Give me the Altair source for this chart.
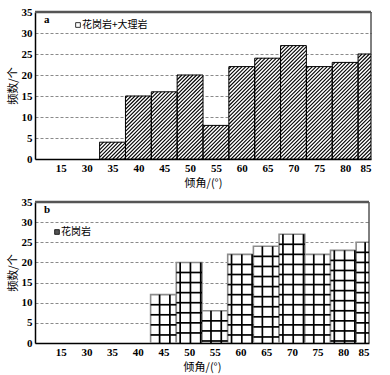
import math
import altair as alt
import pandas as pd

# ---- data ----
cats = ["15", "30", "35", "40", "45", "50", "55", "60", "65", "70", "75", "80", "85"]
counts_a = [0, 0, 4, 15, 16, 20, 8, 22, 24, 27, 22, 23, 25]
counts_b = [0, 0, 0, 0, 12, 20, 8, 22, 24, 27, 22, 23, 25]
y_ticks = [0, 5, 10, 15, 20, 25, 30, 35]
legend_a = "花岗岩+大理岩"
legend_b = "花岗岩"
panel_a = "a"
panel_b = "b"
x_title = "倾角/(°)"
y_title = "频数/个"

N = len(cats)
YMAX = 35
W_A, H_A = 336, 147
W_B, H_B = 334, 141

NUM_FONT = "Liberation Serif"
CJK_FONT = "Noto Sans CJK SC"
label_expr = "[" + ",".join("'%s'" % c for c in cats) + "][datum.value - 1]"


def bars_df(counts):
    rows = []
    for i, (c, v) in enumerate(zip(cats, counts)):
        if v > 0:
            rows.append(dict(cat=c, x0=i + 0.5, x1=i + 1.5, v=v))
    return pd.DataFrame(rows)


def hatch_df(bars, w, h):
    px_x = w / N
    px_y = h / YMAX
    s = px_x / px_y
    d = 3.7 / px_x
    segs = []
    for _, b in bars.iterrows():
        x0, x1, hv = b.x0, b.x1, b.v
        kmin = math.floor((x0 - hv / s) / d)
        kmax = math.ceil(x1 / d)
        for k in range(kmin, kmax + 1):
            c = k * d
            xs = max(x0, c)
            xe = min(x1, c + hv / s)
            if xe - xs <= 1e-6:
                continue
            segs.append(dict(hx=xs, hy=s * (xs - c), hx2=xe, hy2=s * (xe - c)))
    return pd.DataFrame(segs)


def grid_df(bars):
    vs, hs = [], []
    for _, b in bars.iterrows():
        k = 0
        while True:
            v = 0.05 + 0.4 * k
            k += 1
            if v >= b.x1 - 0.03:
                break
            if v > b.x0 + 0.03:
                vs.append(dict(gx=v, gy=0, gy2=b.v))
        yv = b.v - 2.5
        while yv > 0.3:
            hs.append(dict(gx=b.x0, gx2=b.x1, gy=yv))
            yv -= 2.5
    return pd.DataFrame(vs), pd.DataFrame(hs)


X_AXIS = alt.Axis(
    values=list(range(1, N + 1)), labelExpr=label_expr, grid=False,
    ticks=False, domainColor="black", domainWidth=1.5,
    labelFont=NUM_FONT, labelFontWeight="bold", labelFontSize=11,
    labelColor="black", labelPadding=3,
    title=x_title, titleFont=CJK_FONT, titleFontSize=11,
    titleFontWeight="normal", titleColor="black", titlePadding=4,
)
Y_AXIS = alt.Axis(
    values=y_ticks, grid=True, gridDash=[3, 2], gridColor="#8a8a8a",
    gridWidth=1, ticks=False, domainColor="black", domainWidth=1.5,
    labelFont=NUM_FONT, labelFontWeight="bold", labelFontSize=11,
    labelColor="black", labelPadding=3,
    title=y_title, titleFont=CJK_FONT, titleFontSize=11,
    titleFontWeight="normal", titleColor="black", titlePadding=3,
)
X_SCALE = alt.Scale(domain=[0, N], nice=False, zero=False)
Y_SCALE = alt.Scale(domain=[0, YMAX], nice=False)


def x_enc(field):
    return alt.X(field, type="quantitative", scale=X_SCALE, axis=X_AXIS)


def y_enc(field):
    return alt.Y(field, type="quantitative", scale=Y_SCALE, axis=Y_AXIS)


def frame_layers(w, h):
    one = alt.Data(values=[{"k": 1}])
    right = alt.Chart(one).mark_rule(color="black", strokeWidth=1).encode(
        x=alt.value(w), y=alt.value(0), y2=alt.value(h))
    top = alt.Chart(one).mark_rule(color="#555555", strokeWidth=2.5).encode(
        y=alt.value(0), x=alt.value(0), x2=alt.value(w))
    return right, top


def labels_layers(panel, legend, sym_x, sym_y, sym_fill):
    one = alt.Data(values=[{"k": 1}])
    plabel = alt.Chart(one).mark_text(
        text=panel, font=NUM_FONT, fontWeight="bold", fontSize=11,
        align="left", baseline="middle", color="black").encode(
        x=alt.value(9), y=alt.value(8))
    sym = alt.Chart(one).mark_point(
        shape="square", size=22, filled=True, fill=sym_fill,
        stroke="black", strokeWidth=0.8, opacity=1).encode(
        x=alt.value(sym_x), y=alt.value(sym_y))
    txt = alt.Chart(one).mark_text(
        text=legend, font=CJK_FONT, fontSize=10, align="left",
        baseline="middle", color="black").encode(
        x=alt.value(sym_x + 4), y=alt.value(sym_y))
    return plabel, sym, txt


# ---- panel a ----
bars_a = bars_df(counts_a)
hatch_a = hatch_df(bars_a, W_A, H_A)

base_a = alt.Chart(bars_a).encode(
    x=x_enc("x0"), x2="x1", y=y_enc("v"), y2=alt.datum(0))
fill_a = base_a.mark_bar(fill="white", clip=True, strokeWidth=0)
hat_a = alt.Chart(hatch_a).mark_rule(color="black", strokeWidth=1.1, clip=True).encode(
    x=x_enc("hx"), x2="hx2", y=y_enc("hy"), y2="hy2")
outline_a = base_a.mark_bar(fill="white", fillOpacity=0, stroke="black",
                            strokeWidth=1, clip=True)
ra, ta = frame_layers(W_A, H_A)
pa, sa, la = labels_layers(panel_a, legend_a, 43, 13, "white")
chart_a = alt.layer(fill_a, ra, hat_a, outline_a, ta, pa, sa, la).properties(
    width=W_A, height=H_A)

# ---- panel b ----
bars_b = bars_df(counts_b)
vgrid_b, hgrid_b = grid_df(bars_b)

base_b = alt.Chart(bars_b).encode(
    x=x_enc("x0"), x2="x1", y=y_enc("v"), y2=alt.datum(0))
fill_b = base_b.mark_bar(fill="white", stroke="#8c8c8c", strokeWidth=1.6, clip=True)
vg_b = alt.Chart(vgrid_b).mark_rule(color="black", strokeWidth=1.7, clip=True).encode(
    x=x_enc("gx"), y=y_enc("gy"), y2="gy2")
hg_b = alt.Chart(hgrid_b).mark_rule(color="black", strokeWidth=1.7, clip=True).encode(
    x=x_enc("gx"), x2="gx2", y=y_enc("gy"))
rb, tb = frame_layers(W_B, H_B)
pb, sb, lb = labels_layers(panel_b, legend_b, 22, 30, "#555555")
chart_b = alt.layer(fill_b, rb, vg_b, hg_b, tb, pb, sb, lb).properties(
    width=W_B, height=H_B)

chart = alt.vconcat(chart_a, chart_b, spacing=8).properties(
    padding={"left": 7, "top": 6, "right": 4, "bottom": 4},
    background="white",
).configure_view(stroke=None)

chart.save("out.html", embed_options={"renderer": "svg", "actions": False})
